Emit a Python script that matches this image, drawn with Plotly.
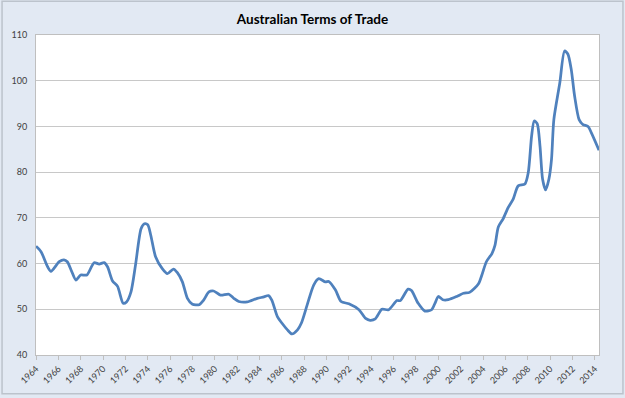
import plotly.graph_objects as go

years = [1964.0, 1964.45, 1965.04, 1965.34, 1966.08, 1966.5, 1966.8, 1967.19, 1967.57, 1968.0,
         1968.55, 1969.2, 1969.65, 1970.1, 1970.4, 1970.85, 1971.3, 1971.8, 1972.1, 1972.5,
         1972.9, 1973.4, 1973.7, 1974.0, 1974.27, 1974.7, 1975.3, 1975.76, 1976.3, 1976.65,
         1977.1, 1977.55, 1978.0, 1978.6, 1979.0, 1979.47, 1979.9, 1980.5, 1981.26, 1981.7,
         1982.15, 1982.9, 1983.8, 1984.4, 1984.8, 1985.1, 1985.6, 1986.0, 1986.5, 1986.9,
         1987.4, 1987.75, 1988.26, 1988.85, 1989.3, 1989.9, 1990.2, 1990.8, 1991.3, 1992.0,
         1992.9, 1993.5, 1993.9, 1994.36, 1994.95, 1995.55, 1996.3, 1996.6, 1997.3, 1997.6,
         1998.2, 1998.8, 1999.4, 1999.7, 2000.0, 2000.4, 2000.9, 2001.65, 2002.25, 2002.8,
         2003.6, 2003.9, 2004.3, 2004.8, 2005.07, 2005.37, 2005.8, 2006.26, 2006.7, 2007.15,
         2007.75, 2008.05, 2008.35, 2008.58, 2008.85, 2009.1, 2009.33, 2009.6, 2009.9, 2010.13,
         2010.34, 2010.87, 2011.3, 2011.6, 2011.9, 2012.2, 2012.6, 2012.95, 2013.4, 2013.7,
         2014.38]

terms_of_trade = [63.8, 62.6, 59.3, 58.3, 60.4, 60.8, 60.4, 58.3, 56.4, 57.5,
                  57.5, 60.2, 59.9, 60.2, 59.3, 56.2, 55.0, 51.3, 51.6, 53.8,
                  59.6, 67.6, 68.7, 68.5, 66.2, 61.5, 58.9, 57.8, 58.8, 58.0,
                  56.0, 52.4, 51.1, 51.0, 52.0, 53.8, 54.0, 53.1, 53.3, 52.4,
                  51.7, 51.6, 52.4, 52.7, 53.0, 52.0, 48.4, 47.0, 45.5, 44.6,
                  45.5, 47.0, 50.9, 55.3, 56.7, 56.0, 56.1, 54.2, 51.7, 51.2,
                  49.9, 48.0, 47.6, 47.9, 50.0, 49.9, 51.9, 51.9, 54.4, 54.1,
                  51.3, 49.6, 49.9, 51.3, 52.8, 52.1, 52.1, 52.8, 53.5, 53.7,
                  55.6, 57.5, 60.4, 62.2, 64.0, 68.0, 69.8, 72.3, 74.1, 77.0,
                  77.4, 79.9, 87.9, 91.2, 90.6, 85.7, 78.5, 76.1, 78.5, 82.8,
                  91.5, 99.5, 106.5, 105.8, 102.4, 96.6, 91.5, 90.4, 90.0, 88.6,
                  84.8]

tick_years = list(range(1964, 2015, 2))
tick_labels = [str(y) for y in tick_years]

fig = go.Figure()
fig.add_trace(go.Scatter(
    x=years, y=terms_of_trade, mode="lines",
    line=dict(color="#4F81BD", width=2.75, shape="spline", smoothing=0.7),
    hoverinfo="x+y", showlegend=False,
))

W, H = 625, 398
ml, mr, mt, mb = 35, 26, 35, 41
pw, ph = W - ml - mr, H - mt - mb

fig.update_layout(
    width=W, height=H, autosize=False,
    margin=dict(l=ml, r=mr, t=mt, b=mb, pad=0),
    paper_bgcolor="#E2E9F3", plot_bgcolor="#FFFFFF",
    font=dict(family="Lato, Carlito, Liberation Sans, sans-serif", color="#404040", size=9),
    title=dict(text="<b>Australian Terms of Trade</b>", x=0.5, xanchor="center",
               y=1 - 19 / H, yanchor="middle",
               font=dict(size=13.5, color="#000000", family="Lato, Carlito, sans-serif")),
    xaxis=dict(range=[1964, 2014.38], tickvals=tick_years, ticktext=tick_labels,
               tickangle=-45, ticks="outside", ticklen=4, tickcolor="#BFBFBF",
               showgrid=False, showline=True, linecolor="#BFBFBF", linewidth=1,
               mirror=True, zeroline=False, tickfont=dict(size=9, color="#404040")),
    yaxis=dict(range=[40, 110], dtick=10, tick0=40, showgrid=True, gridcolor="#C8C8C8",
               gridwidth=1, showline=True, linecolor="#BFBFBF", linewidth=1, mirror=True,
               zeroline=False, ticks="", ticklabelstandoff=6,
               tickfont=dict(size=9, color="#404040")),
)

# outer chart border
fig.add_shape(type="rect", xref="paper", yref="paper",
              x0=(1 - ml) / pw, x1=(623 - ml) / pw,
              y0=(H - mb - 396) / ph, y1=(H - mb - 1) / ph,
              line=dict(color="#BCC3CC", width=1.5), fillcolor="rgba(0,0,0,0)", layer="below")

fig.write_html("out.html", config={"displayModeBar": False},
               post_script="document.body.style.margin='0';document.body.style.padding='0';")
